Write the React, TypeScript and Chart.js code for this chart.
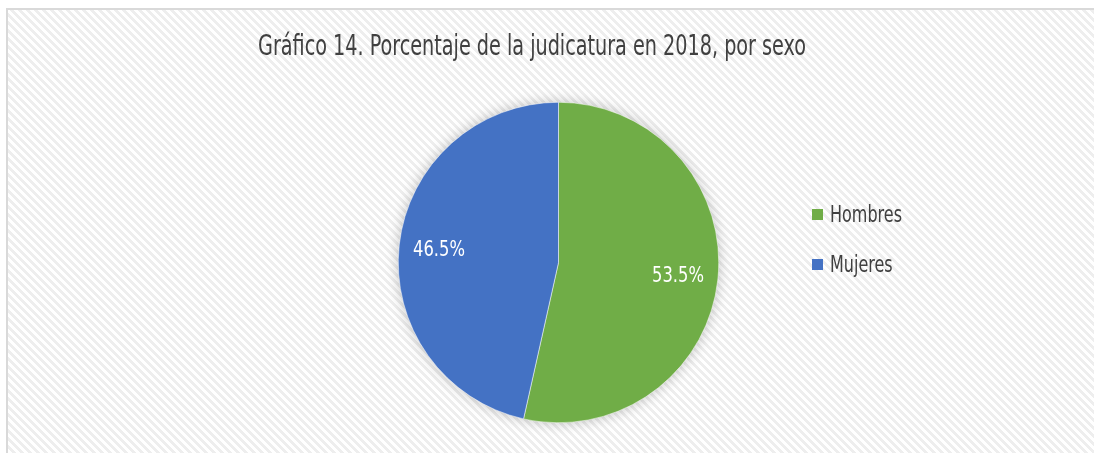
import React, { useEffect, useRef } from 'react';
import { Chart, registerables } from 'chart.js';

Chart.register(...registerables);

const categories = ['Hombres', 'Mujeres'];
const values = [53.5, 46.5];
const colors = ['#70AD47', '#4472C4'];
const titleText = 'Gráfico 14. Porcentaje de la judicatura en 2018, por sexo';

const FONT = "'Liberation Sans Narrow', 'DejaVu Sans Condensed', 'Noto Sans', sans-serif";

function makePattern(ctx: CanvasRenderingContext2D) {
  const c = document.createElement('canvas');
  c.width = 8;
  c.height = 8;
  const p = c.getContext('2d')!;
  p.fillStyle = '#ffffff';
  p.fillRect(0, 0, 8, 8);
  p.fillStyle = '#eeeeee';
  for (let y = 0; y < 8; y++) {
    for (let x = 0; x < 8; x++) {
      if ((((x - y) % 8) + 8) % 8 < 4) p.fillRect(x, y, 1, 1);
    }
  }
  return ctx.createPattern(c, 'repeat')!;
}

const framePlugin = {
  id: 'frame',
  beforeDraw(chart: any) {
    const ctx: CanvasRenderingContext2D = chart.ctx;
    ctx.save();
    ctx.fillStyle = '#ffffff';
    ctx.fillRect(0, 0, chart.width, chart.height);
    ctx.fillStyle = makePattern(ctx);
    ctx.fillRect(7, 9, chart.width, chart.height);
    ctx.strokeStyle = '#d9d9d9';
    ctx.lineWidth = 2;
    ctx.strokeRect(7, 9, chart.width + 10, chart.height + 10);
    ctx.restore();
  },
};

const shadowPlugin = {
  id: 'pieShadow',
  beforeDatasetsDraw(chart: any) {
    const arc = chart.getDatasetMeta(0).data[0];
    if (!arc) return;
    const ctx: CanvasRenderingContext2D = chart.ctx;
    ctx.save();
    ctx.shadowColor = 'rgba(0,0,0,0.28)';
    ctx.shadowBlur = 14;
    ctx.fillStyle = '#ffffff';
    ctx.beginPath();
    ctx.arc(arc.x, arc.y, arc.outerRadius - 1, 0, Math.PI * 2);
    ctx.fill();
    ctx.restore();
  },
};

function fitScale(ctx: CanvasRenderingContext2D, text: string, target: number) {
  return target / ctx.measureText(text).width;
}

const textPlugin = {
  id: 'texts',
  afterDatasetsDraw(chart: any) {
    const ctx: CanvasRenderingContext2D = chart.ctx;
    ctx.save();
    // title
    ctx.font = `500 28px ${FONT}`;
    const sx = fitScale(ctx, titleText, 548);
    ctx.fillStyle = '#404040';
    ctx.textAlign = 'center';
    ctx.textBaseline = 'alphabetic';
    ctx.save();
    ctx.translate(532, 55);
    ctx.scale(sx, 1);
    ctx.fillText(titleText, 0, 0);
    ctx.restore();

    // legend
    const labels: string[] = chart.data.labels;
    const bg: string[] = chart.data.datasets[0].backgroundColor;
    ctx.font = `23px ${FONT}`;
    const lsx = fitScale(ctx, labels[0], 72);
    labels.forEach((lab, i) => {
      const top = 209 + i * 50;
      ctx.fillStyle = bg[i];
      ctx.fillRect(812, top, 11, 11);
      ctx.save();
      ctx.fillStyle = '#404040';
      ctx.textAlign = 'left';
      ctx.translate(830, top + 13);
      ctx.scale(lsx, 1);
      ctx.fillText(lab, 0, 0);
      ctx.restore();
    });

    // data labels
    const meta = chart.getDatasetMeta(0);
    const data: number[] = chart.data.datasets[0].data;
    ctx.font = `22px ${FONT}`;
    const dsx = fitScale(ctx, data[1].toFixed(1) + '%', 52);
    meta.data.forEach((arc: any, i: number) => {
      const mid = (arc.startAngle + arc.endAngle) / 2;
      const r = arc.outerRadius * 0.75;
      const x = arc.x + Math.cos(mid) * r;
      const y = arc.y + Math.sin(mid) * r;
      ctx.save();
      ctx.fillStyle = '#ffffff';
      ctx.textAlign = 'center';
      ctx.textBaseline = 'middle';
      ctx.translate(x, y + 1);
      ctx.scale(dsx, 1);
      ctx.fillText(data[i].toFixed(1) + '%', 0, 0);
      ctx.restore();
    });
    ctx.restore();
  },
};

export default function App() {
  const ref = useRef<HTMLCanvasElement>(null);
  useEffect(() => {
    document.body.style.margin = '0';
    const chart = new Chart(ref.current!, {
      type: 'pie',
      data: {
        labels: categories,
        datasets: [
          {
            data: values,
            backgroundColor: colors,
            borderColor: '#ffffff',
            borderWidth: 0.5,
          },
        ],
      },
      options: {
        responsive: false,
        animation: false,
        layout: { padding: { top: 102, bottom: 30, left: 398, right: 375 } },
        plugins: {
          legend: { display: false },
          title: { display: false },
          tooltip: { enabled: false },
        },
      },
      plugins: [framePlugin, shadowPlugin, textPlugin],
    });
    return () => chart.destroy();
  }, []);
  return (
    <div style={{ width: 1094, height: 453, overflow: 'hidden' }}>
      <canvas ref={ref} width={1094} height={453} style={{ display: 'block' }} />
    </div>
  );
}
